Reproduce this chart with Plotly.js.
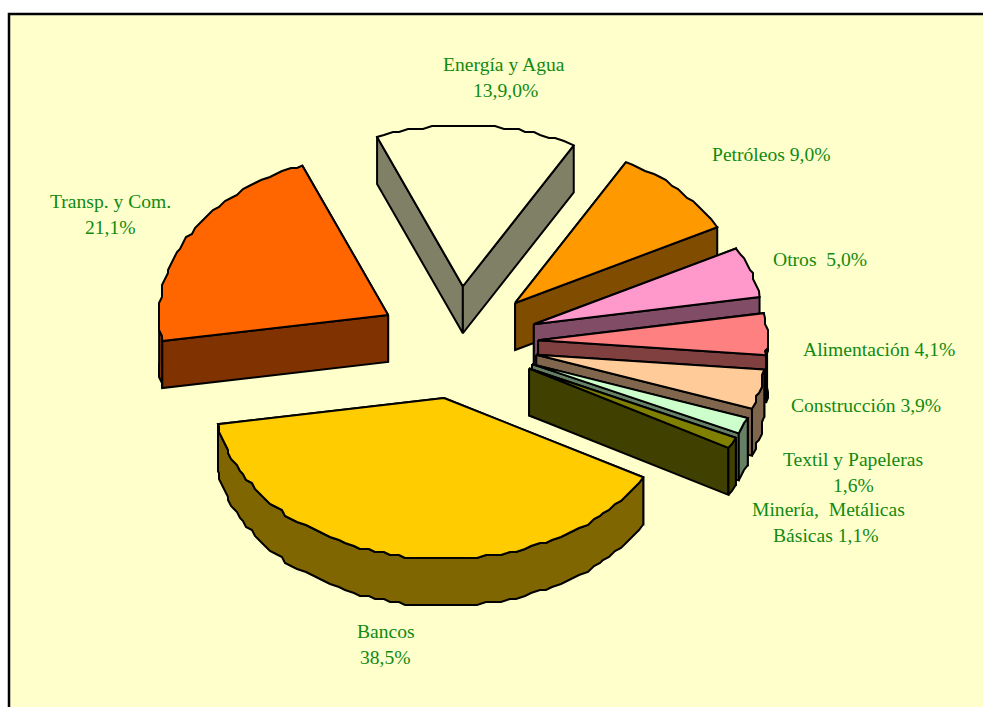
<!DOCTYPE html>
<html>
<head>
<meta charset="utf-8">
<script src="https://cdn.plot.ly/plotly-3.0.1.min.js"></script>
<style>html,body{margin:0;padding:0;background:#fff;overflow:hidden}#chart{width:983px;height:707px}</style>
</head>
<body>
<div id="chart"></div>
<script>
// Data, in clockwise order starting from the top slice
const categories = ['Energía y Agua','Petróleos','Otros','Alimentación','Construcción','Textil y Papeleras','Minería, Metálicas Básicas','Bancos','Transp. y Com.'];
const values = [13.9, 9.0, 5.0, 4.1, 3.9, 1.6, 1.1, 38.5, 21.1];
const topColors = ['#FFFFCC','#FF9900','#FF99CC','#FF8080','#FFCC99','#CCFFCC','#808000','#FFCC00','#FF6600'];
const sideColors = ['#808066','#804C00','#804C66','#804040','#80664C','#668066','#404000','#806600','#803300'];
// Back-to-front paint order (indexes into categories)
const paintOrder = [0, 8, 1, 2, 3, 4, 5, 6, 7];

// Text lines
const labelLines = ['Energía y Agua','13,9,0%','Petróleos 9,0%','Otros  5,0%','Alimentación 4,1%','Construcción 3,9%','Textil y Papeleras','1,6%','Minería,  Metálicas','Básicas 1,1%','Bancos','38,5%','Transp. y Com.','21,1%'];
const labelX = [504,505,771,820,879,866,853,853,828,826,386,385,110,110];
const labelY = [64,90,154,259,349,405,459,485,509,535,631,657,201,227];

// Projection of the exploded pie
const cx = 458, cy = 342.5, rx = 229, ry = 161, depth = 47, pull = 0.35;
const startDeg = -112, stepDeg = 2, snap = 3;
const total = values.reduce((a, b) => a + b, 0);
const rad = d => d * Math.PI / 180;

function rim(apex, t) { return [apex[0] + rx * Math.cos(rad(t)), apex[1] + ry * Math.sin(rad(t))]; }
function arc(apex, a, b) {
  const pts = [rim(apex, a)];
  for (let t = a + stepDeg; t < b - stepDeg / 2; t += stepDeg) {
    const p = rim(apex, t);
    pts.push([Math.round(p[0] / snap) * snap, Math.round(p[1] / snap) * snap]);
  }
  pts.push(rim(apex, b));
  return pts;
}
function poly(pts, fill, name) {
  return {
    type: 'scatter', mode: 'lines', fill: 'toself', fillcolor: fill, name: name,
    x: pts.map(p => p[0]).concat(pts[0][0]), y: pts.map(p => p[1]).concat(pts[0][1]),
    line: { color: '#000', width: 2, simplify: false }, showlegend: false, hoverinfo: 'name'
  };
}
const down = p => [p[0], p[1] + depth];
function wall(apex, t, fill, name) {
  const p = rim(apex, t);
  return poly([apex, p, down(p), down(apex)], fill, name);
}

let acc = startDeg;
const slices = values.map((v, i) => {
  const a = acc, b = acc + v / total * 360;
  acc = b;
  const m = rad((a + b) / 2);
  return { a, b, left: Math.cos(m) < 0, apex: [cx + pull * rx * Math.cos(m), cy + pull * ry * Math.sin(m)] };
});

const traces = [];
paintOrder.forEach(i => {
  const s = slices[i], name = categories[i];
  const edges = s.left ? [s.b, s.a] : [s.a, s.b];
  edges.forEach(t => traces.push(wall(s.apex, t, sideColors[i], name)));
  const lo = Math.max(s.a, 0), hi = Math.min(s.b, 180);
  if (hi > lo) {
    const upper = arc(s.apex, lo, hi);
    traces.push(poly(upper.concat(upper.slice().reverse().map(down)), sideColors[i], name));
  }
  traces.push(poly([s.apex].concat(arc(s.apex, s.a, s.b)), topColors[i], name));
});

const layout = {
  width: 983, height: 707, margin: { l: 0, r: 0, t: 0, b: 0 },
  paper_bgcolor: '#FFFFFF', plot_bgcolor: '#FFFFFF', showlegend: false,
  xaxis: { range: [0, 983], visible: false, fixedrange: true },
  yaxis: { range: [707, 0], visible: false, fixedrange: true },
  shapes: [{ type: 'rect', layer: 'below', xref: 'x', yref: 'y', x0: 9, y0: 14, x1: 1100, y1: 800, fillcolor: '#FFFFCC', line: { color: '#000', width: 2.5 } }],
  annotations: labelLines.map((t, i) => ({
    text: t, x: labelX[i], y: labelY[i], xref: 'x', yref: 'y', showarrow: false,
    xanchor: 'center', yanchor: 'middle',
    font: { family: '"Liberation Serif", serif', size: 19.6, color: '#118A11' }
  }))
};
Plotly.newPlot('chart', traces, layout, { displayModeBar: false, staticPlot: true });
</script>
</body>
</html>
